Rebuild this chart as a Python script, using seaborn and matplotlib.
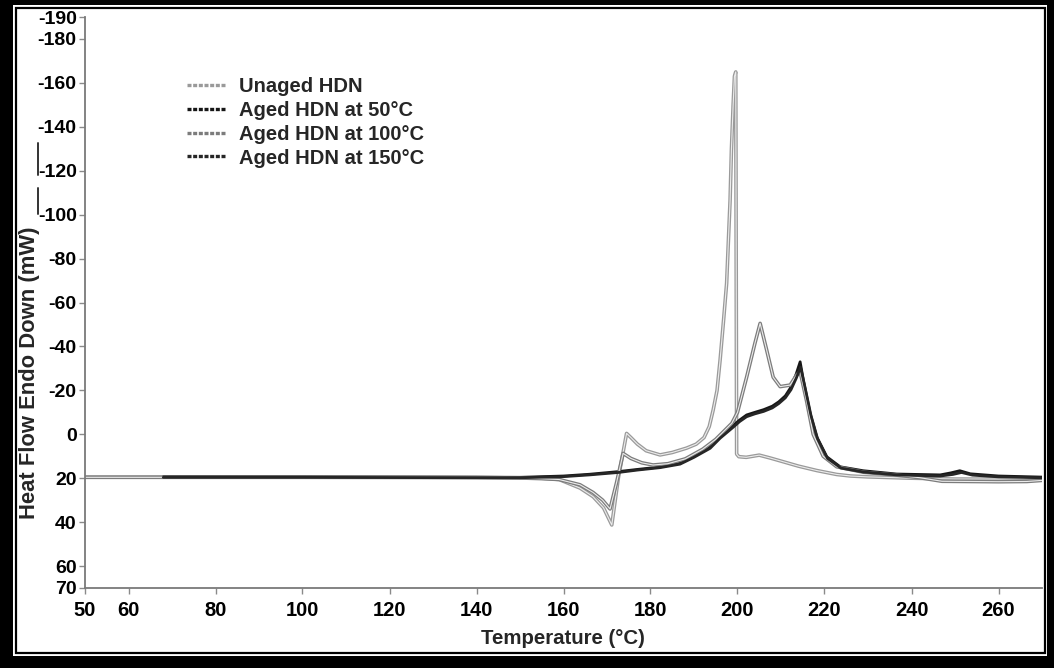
import matplotlib
matplotlib.use("Agg")
import matplotlib.pyplot as plt
import matplotlib.patheffects as pe
from matplotlib.lines import Line2D
from matplotlib.patches import Rectangle
import seaborn as sns

# DSC traces: temperature (°C) and heat flow (mW, endo down)
temp_unaged = [50, 100, 140, 150, 155, 159, 163.8, 166.8, 169.2, 171.1, 172.6, 174.5, 175.5,
               177.0, 179.0, 182.2, 185.0, 188.3, 190.5, 192.3, 193.5, 194.4, 195.3, 196.0,
               196.8, 197.5, 198.3, 198.6, 199.0, 199.3, 199.6, 199.8, 200.3, 202.0, 205.0,
               207.5, 210.5, 214.0, 218.2, 222.8, 226.0, 230.0, 240.0, 250.0, 260.0, 270.0]
flow_unaged = [19.5, 19.5, 19.6, 19.8, 20.0, 20.6, 24.5, 28.4, 33.5, 41.3, 20.0, -0.4, 1.5,
               4.5, 7.5, 9.4, 8.3, 6.3, 4.5, 1.5, -3.5, -11.0, -20.0, -33.8,
               -52.0, -68.7, -106.7, -129.4, -150.0, -163.0, -165.0, 9.0, 10.2, 10.5, 9.5,
               10.8, 12.5, 14.5, 16.5, 18.3, 19.0, 19.4, 20.0, 20.4, 20.4, 20.0]

temp_aged50 = [68, 100, 140, 150, 160, 166, 172.6, 177, 182.2, 186.8, 190.0, 193.7, 196.0,
               199.0, 200.5, 202.1, 204.0, 206.0, 208.0, 209.5, 211.0, 212.3, 213.5, 214.4,
               215.2, 216.7, 218.2, 220.5, 223.6, 228.9, 236.6, 246.6, 249.0, 251.1, 253.5,
               260.0, 270.0]
flow_aged50 = [19.3, 19.4, 19.6, 19.6, 19.0, 18.2, 17.0, 16.0, 14.9, 13.2, 10.0, 5.8, 1.0,
               -4.0, -6.5, -8.8, -10.0, -11.2, -12.8, -14.8, -17.5, -21.5, -27.5, -33.0,
               -24.0, -9.5, 1.1, 10.2, 14.8, 16.6, 18.1, 18.5, 17.6, 16.6, 18.0,
               19.0, 19.5]

temp_aged100 = [50, 100, 140, 150, 155, 159, 163.8, 166.8, 169.0, 170.7, 172.2, 173.7, 175.5,
                178.0, 180.6, 184.0, 188.0, 192.0, 195.0, 198.7, 200.0, 202.1, 204.0, 205.2,
                206.7, 208.2, 209.8, 212.1, 213.6, 214.4, 215.9, 217.4, 219.7, 222.8, 229.0,
                236.6, 242.0, 247.0, 260.0, 266.5, 270.0]
flow_aged100 = [19.6, 19.6, 19.7, 19.9, 20.2, 20.6, 23.0, 26.5, 30.0, 34.0, 22.0, 8.7, 11.0,
                13.0, 14.0, 13.4, 11.2, 6.8, 2.3, -5.0, -10.0, -26.0, -41.4, -50.5,
                -38.4, -26.0, -21.7, -22.4, -27.0, -28.5, -15.0, 0.0, 10.0, 14.8, 17.3,
                18.6, 19.8, 21.4, 21.6, 21.5, 21.0]

temp_aged150 = [68, 100, 140, 150, 160, 166, 172.6, 177, 182.2, 186.8, 190.0, 193.7, 196.0,
                199.0, 200.5, 202.1, 204.0, 206.0, 208.0, 209.5, 211.0, 212.3, 213.5, 214.5,
                215.4, 216.9, 218.4, 220.7, 223.8, 229.0, 236.6, 246.6, 249.5, 251.5, 254.0,
                260.0, 270.0]
flow_aged150 = [19.6, 19.6, 19.8, 19.8, 19.3, 18.5, 17.4, 16.3, 15.2, 13.6, 10.5, 6.4, 1.8,
                -3.2, -5.8, -8.0, -9.3, -10.4, -12.0, -14.0, -16.6, -20.3, -25.5, -30.5,
                -22.5, -8.5, 2.0, 11.0, 15.4, 17.2, 18.5, 19.0, 18.3, 17.4, 18.6,
                19.4, 19.8]

series_names = ["Unaged HDN", "Aged HDN at 50°C", "Aged HDN at 100°C", "Aged HDN at 150°C"]
x_ticks = [50, 60, 80, 100, 120, 140, 160, 180, 200, 220, 240, 260]
y_ticks = [-190, -180, -160, -140, -120, -100, -80, -60, -40, -20, 0, 20, 40, 60, 70]

sns.set_theme(style="white")
plt.rcParams["font.family"] = ["Liberation Sans", "DejaVu Sans"]
plt.rcParams["axes.unicode_minus"] = False

W, H = 1054, 668
fig = plt.figure(figsize=(W / 100, H / 100), dpi=100)
fig.patch.set_facecolor("black")


def px_rect(x0, y0, x1, y1, **kw):
    """Rectangle given in pixel coordinates measured from the top-left corner."""
    return Rectangle((x0 / W, 1 - y1 / H), (x1 - x0) / W, (y1 - y0) / H,
                     transform=fig.transFigure, **kw)


# framed page: thick black border, thin white gap, thin black rule
fig.add_artist(px_rect(13, 5, 1047, 656, facecolor="white", edgecolor="none", zorder=-3))
fig.add_artist(px_rect(16, 8, 1045, 653, facecolor="none", edgecolor="black",
                       linewidth=1.6, zorder=-2))

ax = fig.add_axes([85 / W, 1 - 588 / H, (1042 - 85) / W, (588 - 17) / H])
ax.set_facecolor("white")

styles = [
    dict(x=temp_unaged, y=flow_unaged, color="#9a9a9a", hollow=True),
    dict(x=temp_aged50, y=flow_aged50, color="#161616", hollow=False),
    dict(x=temp_aged100, y=flow_aged100, color="#7c7c7c", hollow=True),
    dict(x=temp_aged150, y=flow_aged150, color="#262626", hollow=False),
]

handles = []
for name, st in zip(series_names, styles):
    sns.lineplot(x=st["x"], y=st["y"], ax=ax, sort=False, estimator=None,
                 color=st["color"], linewidth=2.0)
    line = ax.lines[-1]
    if st["hollow"]:
        line.set_path_effects([pe.Stroke(linewidth=2.6, foreground=st["color"]),
                               pe.Stroke(linewidth=0.8, foreground="#ececec")])
    handles.append(Line2D([], [], color=st["color"], linewidth=2.4,
                          linestyle=(0, (1.2, 0.5)), label=name))

ax.set_xlim(50, 270)
ax.set_ylim(70, -190)
ax.set_xticks(x_ticks)
ax.set_xticklabels([str(t) for t in x_ticks], fontweight="bold", fontsize=14.5)
ax.set_yticks(y_ticks)
ax.set_yticklabels([str(t) for t in y_ticks], fontweight="bold", fontsize=14)
ax.set_xlabel("")
ax.set_ylabel("")
ax.tick_params(axis="both", which="major", bottom=True, left=True, length=4, width=1,
               color="#8a8a8a", labelcolor="black", direction="out")
ax.tick_params(axis="x", pad=5)
ax.tick_params(axis="y", pad=2)
sns.despine(ax=ax)
for side in ("left", "bottom"):
    ax.spines[side].set_color("#7a7a7a")
    ax.spines[side].set_linewidth(1.3)

leg = ax.legend(handles=handles, loc="upper left", frameon=False,
                bbox_to_anchor=(187 / W, 1 - 77 / H), bbox_transform=fig.transFigure,
                borderpad=0, borderaxespad=0, handlelength=1.95, handletextpad=0.65,
                labelspacing=0.24, prop=dict(family="Liberation Sans", weight="bold", size=14.5))

fig.text(30 / W, 1 - 373 / H, "Heat Flow Endo Down (mW)", rotation=90, ha="center",
         va="center", fontsize=15.8, fontweight="bold")
fig.text(563 / W, 1 - 638 / H, "Temperature (°C)", ha="center", va="center",
         fontsize=14.7, fontweight="bold")

# short strokes beside the -120 and -100 tick labels
for y0, y1 in ((143, 175), (188, 214)):
    fig.add_artist(Line2D([38 / W, 38 / W], [1 - y0 / H, 1 - y1 / H], color="#333333",
                          linewidth=1.4, transform=fig.transFigure))

fig.savefig("out.png", dpi=100)
